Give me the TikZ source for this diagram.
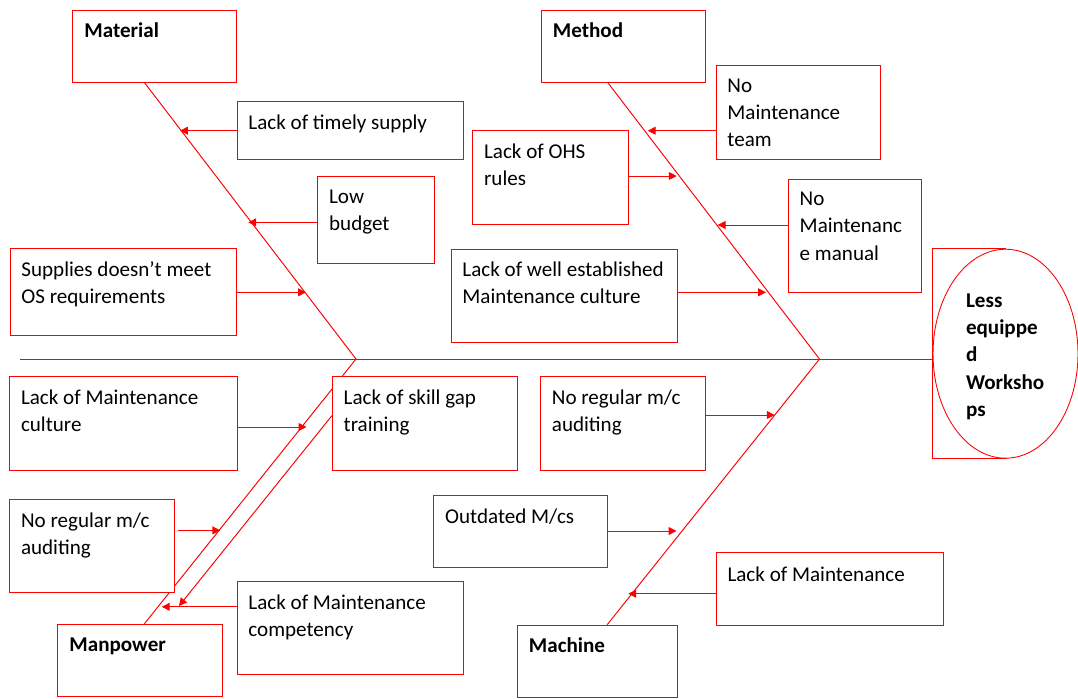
\documentclass[tikz,border=0pt]{standalone}
\usepackage{fontspec}
\setmainfont{Carlito}
\usetikzlibrary{shapes.geometric, arrows.meta, positioning, calc, fit, backgrounds}
\tikzstyle{cause} = [rectangle, draw=red, fill=white, line width=0.5pt, inner sep=0pt]
\tikzstyle{effect} = [ellipse, draw=red, fill=white, line width=0.5pt, inner sep=0pt,
    minimum width=2.9cm, minimum height=4.18cm]
\tikzstyle{causetext} = [anchor=north west, inner sep=0pt, align=left,
    font=\fontsize{12}{15.5}\selectfont, execute at begin node=\strut]
\tikzstyle{headtext} = [causetext, font=\fontsize{12}{15.5}\selectfont\bfseries]
\tikzstyle{bone} = [draw=red, line width=0.55pt]
\tikzstyle{arrow} = [bone, -{Triangle[length=4.5pt, width=4.5pt]}]

\begin{document}
\begin{tikzpicture}[x=0.02cm, y=-0.02cm]
\useasboundingbox (0,0) rectangle (1078,698);

% effect
\node (effect) [effect] at (1005.5,353.7) {};
\draw[bone] (effect.north) -| (effect.west) |- (effect.south);
\node (effectT) [headtext] at (965.7,293.4) {Less\\equippe\\d\\Worksho\\ps};

% heads
\node (material) [cause, fit={(72.5,10) (236.7,82.3)}] {};
\node (method) [cause, fit={(541,10) (705.5,82.3)}] {};
\node (manpower) [cause, fit={(57.5,624.5) (222,696.5)}] {};
\node (machine) [cause, fit={(517,625) (677.6,697)}] {};
\node [headtext] at ($(material.north west)+(12,8.4)$) {Material};
\node [headtext] at ($(method.north west)+(12,8.4)$) {Method};
\node [headtext] at ($(manpower.north west)+(12,8.4)$) {Manpower};
\node [headtext] at ($(machine.north west)+(12,8.4)$) {Machine};

% spine and bones
\coordinate (tail) at (20,359);
\coordinate (jL) at (356,359);
\coordinate (jR) at (819.5,359);
\begin{scope}[on background layer]
\draw[bone] (tail) -- (tail -| effect.west);
\draw[bone] ($(material.south west)+(72.5,0)$) -- (jL) -- ($(manpower.north west)+(87.1,0)$);
\draw[bone] ($(method.south west)+(67.3,0)$) -- (jR) -- ($(machine.north west)+(90.7,0)$);
\end{scope}

% material causes
\node (supply) [cause, fit={(237,101.5) (463.3,159.3)}] {};
\node (budget) [cause, fit={(317.7,176.7) (434.3,263.3)}] {};
\node (supplies) [cause, fit={(10,248.7) (236.7,335.7)}] {};
\node [causetext] at ($(supply.north west)+(11.5,9.5)$) {Lack of timely supply};
\node [causetext] at ($(budget.north west)+(11.5,13.2)$) {Low\\budget};
\node [causetext] at ($(supplies.north west)+(11.5,13.2)$) {Supplies doesn’t meet\\OS requirements};

% method causes
\node (team) [cause, fit={(716,65.7) (880.7,159.3)}] {};
\node (ohs) [cause, fit={(472.7,130.7) (628,224.7)}] {};
\node (manual) [cause, fit={(788.3,179) (921,292.3)}] {};
\node (wellcult) [cause, fit={(451,249) (677.7,342.7)}] {};
\node [causetext] at ($(team.north west)+(11.5,13.2)$) {No\\Maintenance\\team};
\node [causetext] at ($(ohs.north west)+(11.5,13.2)$) {Lack of OHS\\rules};
\node [causetext] at ($(manual.north west)+(11.5,13.2)$) {No\\Maintenanc\\e manual};
\node [causetext] at ($(wellcult.north west)+(11.5,13.2)$) {Lack of well established\\Maintenance culture};

% manpower causes
\node (culture) [cause, fit={(9.6,376.5) (237,470.2)}] {};
\node (skill) [cause, fit={(332.3,376.5) (517.2,470.2)}] {};
\node (auditL) [cause, fit={(9.6,499.5) (174,592.5)}] {};
\node (compet) [cause, fit={(237,581.5) (463,674.2)}] {};
\node [causetext] at ($(culture.north west)+(11.5,13.2)$) {Lack of Maintenance\\culture};
\node [causetext] at ($(skill.north west)+(11.5,13.2)$) {Lack of skill gap\\training};
\node [causetext] at ($(auditL.north west)+(11.5,13.2)$) {No regular m/c\\auditing};
\node [causetext] at ($(compet.north west)+(11.5,13.2)$) {Lack of Maintenance\\competency};

% machine causes
\node (auditM) [cause, fit={(540.5,376.7) (705.1,470.7)}] {};
\node (outdated) [cause, fit={(433.8,495) (607.7,567)}] {};
\node (lackmaint) [cause, fit={(716.1,552.7) (943.4,625)}] {};
\node [causetext] at ($(auditM.north west)+(11.5,13.2)$) {No regular m/c\\auditing};
\node [causetext] at ($(outdated.north west)+(11.5,9.5)$) {Outdated M/cs};
\node [causetext] at ($(lackmaint.north west)+(11.5,9.5)$) {Lack of Maintenance};

% arrow tips on the bones
\coordinate (tSupply) at (180,130.7);
\coordinate (tBudget) at (248.3,222.3);
\coordinate (tSupplies) at (306,292.3);
\coordinate (tTeam) at (647.7,130.7);
\coordinate (tOhs) at (676.7,176);
\coordinate (tManual) at (717.7,225);
\coordinate (tWell) at (766,292.3);
\coordinate (tCulture) at (306.5,427);
\coordinate (tAuditL) at (220.4,530.4);
\coordinate (tCompet) at (161.8,606.8);
\coordinate (tSkill) at (179,606);
\coordinate (tAuditM) at (774.7,415);
\coordinate (tOutdated) at (676.5,531);
\coordinate (tLackM) at (628.3,593.7);

\draw[arrow] (supply.west |- tSupply) -- (tSupply);
\draw[arrow] (budget.west |- tBudget) -- (tBudget);
\draw[arrow] (supplies.east |- tSupplies) -- (tSupplies);
\draw[arrow] (team.west |- tTeam) -- (tTeam);
\draw[arrow] (ohs.east |- tOhs) -- (tOhs);
\draw[arrow] (manual.west |- tManual) -- (tManual);
\draw[arrow] (wellcult.east |- tWell) -- (tWell);
\draw[arrow] (culture.east |- tCulture) -- (tCulture);
\draw[arrow, shorten <=2pt] (auditL.east |- tAuditL) -- (tAuditL);
\draw[arrow] (compet.west |- tCompet) -- (tCompet);
\draw[arrow] (skill.west |- 0,415.7) -- (tSkill);
\draw[arrow] (auditM.east |- tAuditM) -- (tAuditM);
\draw[arrow] (outdated.east |- tOutdated) -- (tOutdated);
\draw[arrow] (lackmaint.west |- tLackM) -- (tLackM);
\end{tikzpicture}
\end{document}
